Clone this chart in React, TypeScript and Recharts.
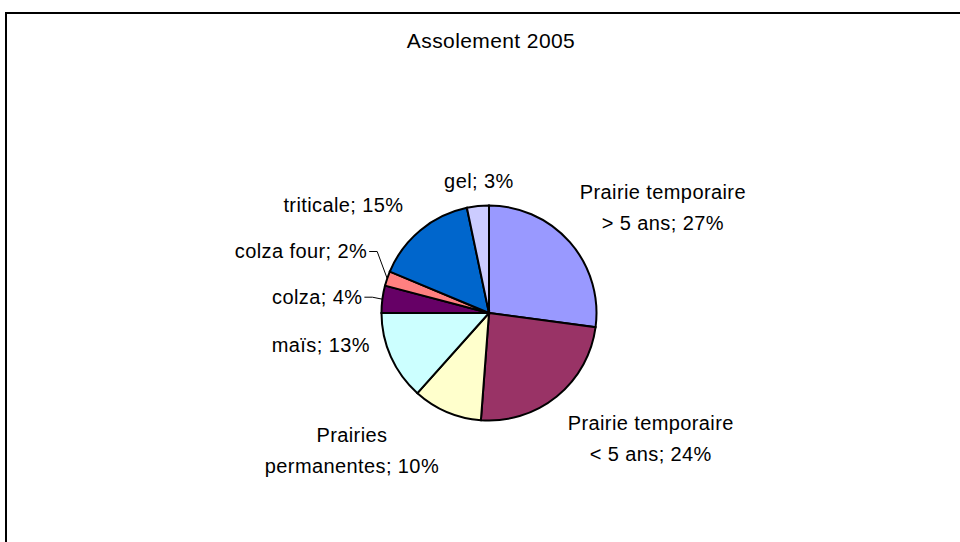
import { PieChart, Pie, Cell } from "recharts";

// ---- données ----
const CATEGORIES = [
  "Prairie temporaire > 5 ans",
  "Prairie temporaire < 5 ans",
  "Prairies permanentes",
  "maïs",
  "colza",
  "colza four",
  "triticale",
  "gel",
];
const SHARES = [27.1, 24.1, 10.4, 13.4, 4.1, 2.2, 15.4, 3.3];
const TITLE = "Assolement 2005";

// ---- couleurs ----
const COLORS = ["#9999FF", "#993366", "#FFFFCC", "#CCFFFF", "#660066", "#FF8080", "#0066CC", "#CCCCFF"];

// ---- placement des étiquettes (décalage depuis le bord de la part) ----
const LABEL_LAYOUT = [
  { dx: 93, dy: -35, anchor: "middle", wrap: 18, leader: false },
  { dx: 94, dy: 42, anchor: "middle", wrap: 18, leader: false },
  { dx: -95, dy: 39, anchor: "middle", wrap: 8, leader: false },
  { dx: -21, dy: -12, anchor: "end", wrap: 0, leader: false },
  { dx: -20, dy: -2, anchor: "end", wrap: 0, leader: true },
  { dx: -20, dy: -27, anchor: "end", wrap: 0, leader: true },
  { dx: -17, dy: -25, anchor: "end", wrap: 0, leader: false },
  { dx: 1, dy: -25, anchor: "middle", wrap: 0, leader: false },
];

const data = CATEGORIES.map((name, i) => ({ name, value: SHARES[i] }));

const FONT = "'Liberation Sans', Arial, sans-serif";
const LINE_H = 31;

const renderLabel = (props: any) => {
  const { cx, cy, midAngle, outerRadius, percent, index, name } = props;
  const RADIAN = Math.PI / 180;
  const ex = cx + outerRadius * Math.cos(-midAngle * RADIAN);
  const ey = cy + outerRadius * Math.sin(-midAngle * RADIAN);
  const lay = LABEL_LAYOUT[index];
  const pct = `${Math.round(percent * 100)}%`;
  const lines = lay.wrap
    ? [name.slice(0, lay.wrap).trim(), `${name.slice(lay.wrap).trim()}; ${pct}`]
    : [`${name}; ${pct}`];
  const x = ex + lay.dx;
  const yc = ey + lay.dy;
  const y0 = yc - ((lines.length - 1) * LINE_H) / 2;
  return (
    <g key={`lbl-${index}`}>
      {lay.leader && (
        <polyline
          points={`${x + 2},${yc} ${x + 10},${yc} ${ex},${ey}`}
          fill="none"
          stroke="#000"
          strokeWidth={1}
        />
      )}
      <text
        x={x}
        y={y0}
        textAnchor={lay.anchor}
        dominantBaseline="central"
        fontFamily={FONT}
        fontSize={20}
        letterSpacing={0.4}
        fill="#000"
      >
        {lines.map((t, k) => (
          <tspan key={k} x={x} dy={k === 0 ? 0 : LINE_H}>
            {t}
          </tspan>
        ))}
      </text>
    </g>
  );
};

export default function App() {
  return (
    <div style={{ position: "absolute", left: 0, top: 0, width: 960, height: 542, background: "#fff", overflow: "hidden" }}>
      <div
        style={{
          position: "absolute",
          left: 5,
          top: 12,
          width: 1000,
          height: 600,
          borderTop: "2px solid #000",
          borderLeft: "2px solid #000",
        }}
      />
      <div
        style={{
          position: "absolute",
          left: 0,
          top: 28,
          width: 982,
          textAlign: "center",
          fontFamily: FONT,
          fontSize: 21,
          letterSpacing: 0.4,
          lineHeight: "26px",
        }}
      >
        {TITLE}
      </div>
      <div style={{ position: "absolute", left: 0, top: 0 }}>
        <PieChart width={960} height={542} margin={{ top: 0, right: 0, bottom: 0, left: 0 }}>
          <Pie
            data={data}
            dataKey="value"
            nameKey="name"
            cx={489}
            cy={313}
            outerRadius={107.5}
            startAngle={90}
            endAngle={-270}
            stroke="#000"
            strokeWidth={2}
            labelLine={false}
            label={renderLabel}
            isAnimationActive={false}
          >
            {data.map((_, i) => (
              <Cell key={i} fill={COLORS[i]} />
            ))}
          </Pie>
        </PieChart>
      </div>
    </div>
  );
}
